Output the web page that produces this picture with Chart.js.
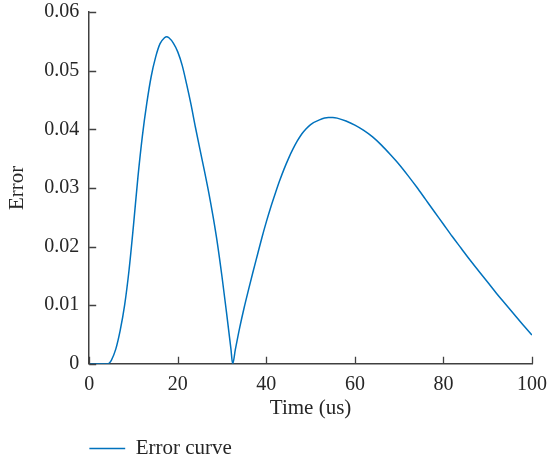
<!DOCTYPE html>
<html>
<head>
<meta charset="utf-8">
<script src="https://cdn.jsdelivr.net/npm/chart.js@4"></script>
<style>
  html, body { margin: 0; padding: 0; background: #ffffff; }
  #wrap { width: 560px; height: 460px; }
</style>
</head>
<body>
<div id="wrap"><canvas id="c" width="560" height="460"></canvas></div>
<script>
// ---- data ----
const timeValues = [0, 2, 4, 4.5, 5, 6, 7, 8, 9, 10, 11, 12, 13, 14, 15, 16, 17, 17.5, 18, 19, 20,
  21, 22, 23, 24, 25, 26, 27, 28, 29, 30, 31, 32, 32.4, 33, 34, 35, 36, 37, 38, 39, 40,
  41, 42, 43, 44, 45, 46, 47, 48, 49, 50, 52, 54, 55, 56, 58, 60, 62, 64, 66, 68, 70,
  72, 74, 76, 78, 80, 82, 84, 86, 88, 90, 92, 94, 96, 98, 100];
const errorValues = [0, 0, 0, 0.0001, 0.0006, 0.0025, 0.0057, 0.0100, 0.0160, 0.0236, 0.0318, 0.0388, 0.0444, 0.0490, 0.0523, 0.0546, 0.0556, 0.0558, 0.0556, 0.0547, 0.0532,
  0.0509, 0.0477, 0.0442, 0.0403, 0.0366, 0.0330, 0.0292, 0.0250, 0.0203, 0.0148, 0.0088, 0.0026, 0, 0.0024, 0.0062, 0.0096, 0.0127, 0.0157, 0.0186, 0.0215, 0.0242,
  0.0267, 0.0290, 0.0312, 0.0332, 0.0350, 0.0366, 0.0380, 0.0392, 0.0401, 0.0408, 0.0416, 0.0420, 0.0420, 0.0419, 0.0414, 0.0407, 0.0398, 0.0387, 0.0373, 0.0357, 0.0340,
  0.0321, 0.0301, 0.0280, 0.0259, 0.0238, 0.0217, 0.0197, 0.0177, 0.0158, 0.0139, 0.0120, 0.0102, 0.0084, 0.0066, 0.0049];
const seriesName = 'Error curve';
const xTitle = 'Time (us)';
const yTitle = 'Error';
const xTickValues = [0, 20, 40, 60, 80, 100];
const yTickLabels = ['0', '0.01', '0.02', '0.03', '0.04', '0.05', '0.06'];

const FONT = "'Liberation Serif', 'Times New Roman', serif";
const AXIS_COLOR = '#404040';
const TEXT_COLOR = '#262626';
const LINE_COLOR = '#0072BD';

// inward ticks drawn through the scales
const inwardTicks = {
  id: 'inwardTicks',
  afterDatasetsDraw(chart) {
    const ctx = chart.ctx;
    const xs = chart.scales.x, ys = chart.scales.y;
    const len = 7;
    ctx.save();
    ctx.strokeStyle = AXIS_COLOR;
    ctx.lineWidth = 1.3;
    ctx.beginPath();
    xs.ticks.forEach(t => {
      const px = Math.round(xs.getPixelForValue(t.value)) + 0.5;
      ctx.moveTo(px, ys.bottom);
      ctx.lineTo(px, ys.bottom - len);
    });
    ys.ticks.forEach(t => {
      const py = Math.round(ys.getPixelForValue(t.value)) + 0.5;
      ctx.moveTo(xs.left, py);
      ctx.lineTo(xs.left + len, py);
    });
    ctx.stroke();
    ctx.restore();
  }
};

const points = timeValues.map((t, i) => ({ x: t, y: errorValues[i] }));

new Chart(document.getElementById('c'), {
  type: 'line',
  data: {
    datasets: [{
      label: seriesName,
      data: points,
      borderColor: LINE_COLOR,
      backgroundColor: LINE_COLOR,
      borderWidth: 1.5,
      pointRadius: 0,
      cubicInterpolationMode: 'monotone',
      fill: false
    }]
  },
  options: {
    responsive: false,
    animation: false,
    layout: { padding: { left: 5, right: 28, top: 12, bottom: -9 } },
    plugins: {
      tooltip: { enabled: false },
      legend: {
        position: 'bottom',
        align: 'start',
        fullSize: false,
        labels: {
          usePointStyle: true,
          pointStyle: 'line',
          pointStyleWidth: 36,
          boxHeight: 10,
          padding: 0,
          color: TEXT_COLOR,
          font: { family: FONT, size: 21 }
        }
      }
    },
    scales: {
      x: {
        type: 'linear',
        min: 0, max: 100,
        afterBuildTicks: (scale) => { scale.ticks = xTickValues.map(v => ({ value: v })); },
        ticks: {
          color: TEXT_COLOR,
          font: { family: FONT, size: 20 },
          padding: 9,
          maxRotation: 0,
          callback: (v) => String(v)
        },
        grid: { display: true, drawOnChartArea: false, drawTicks: false },
        border: { display: true, color: AXIS_COLOR, width: 1.5 },
        title: { display: true, text: xTitle, color: TEXT_COLOR, font: { family: FONT, size: 21 }, padding: { top: -10, bottom: 17 } }
      },
      y: {
        min: 0, max: 0.06,
        afterFit: (scale) => { scale.paddingTop = 0; },
        ticks: {
          stepSize: 0.01,
          color: TEXT_COLOR,
          font: { family: FONT, size: 20 },
          padding: 10,
          callback: (v, i) => yTickLabels[i]
        },
        grid: { display: true, drawOnChartArea: false, drawTicks: false },
        border: { display: true, color: AXIS_COLOR, width: 1.5 },
        title: { display: true, text: yTitle, color: TEXT_COLOR, font: { family: FONT, size: 21 }, padding: { top: 0, bottom: 4 } }
      }
    }
  },
  plugins: [inwardTicks]
});
</script>
</body>
</html>
